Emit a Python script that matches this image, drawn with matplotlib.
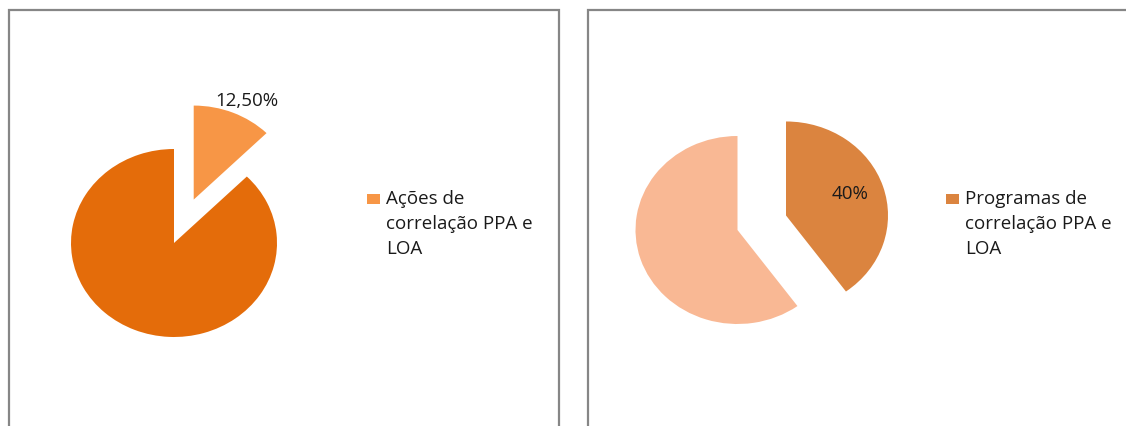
import textwrap
import matplotlib
matplotlib.use("Agg")
import matplotlib.pyplot as plt
from matplotlib.patches import Rectangle

# data
left_values = [12.5, 87.5]
left_colors = ['#F79646', '#E46C0A']
left_legend = 'Ações de correlação PPA e LOA'

right_values = [40, 60]
right_colors = ['#DB843F', '#F9B894']
right_legend = 'Programas de correlação PPA e LOA'

W, H = 1126, 427
plt.rcParams['font.family'] = ['Open Sans', 'DejaVu Sans']
FS = 13.5

fig = plt.figure(figsize=(W / 100, H / 100), dpi=100)

# panel frames (pixels: x0, x1, top)
for x0, x1 in [(9, 558.5), (588, 1140)]:
    fig.add_artist(Rectangle((x0 / W, -0.05), (x1 - x0) / W, (H - 10.5) / H + 0.05,
                             transform=fig.transFigure, fill=False,
                             edgecolor='#868686', linewidth=1.6))


def pie_axes(cx, cy, rx, ry, k=1.7):
    # axes centred on the pie, one data unit = pie radius (slightly elliptic)
    ax = fig.add_axes([(cx - k * rx) / W, (H - cy - k * ry) / H,
                       2 * k * rx / W, 2 * k * ry / H])
    return ax, k


def fmt_left(p):
    return ('%.2f%%' % p).replace('.', ',') if p < 50 else ''


def fmt_right(p):
    return '%.0f%%' % p if p < 50 else ''


def nudge(t, dx, dy):
    x, y = t.get_position()
    t.set_position((x + dx, y + dy))


# left chart
ax, k = pie_axes(174, 244, 103, 94)
wl, _, tl = ax.pie(left_values, colors=left_colors, startangle=90, counterclock=False,
                   explode=[0.5, 0], autopct=fmt_left, pctdistance=1.19,
                   wedgeprops=dict(linewidth=0), textprops=dict(fontsize=FS, color='#1a1a1a'))
nudge(tl[0], 0.06, -0.045)
ax.set_aspect('auto')
ax.set_xlim(-k, k)
ax.set_ylim(-k, k)
ax.axis('off')

# right chart
ax2, k = pie_axes(737.5, 231, 102, 94)
wr, _, tr = ax2.pie(right_values, colors=right_colors, startangle=90, counterclock=False,
                    explode=[0.5, 0], autopct=fmt_right, pctdistance=0.66,
                    wedgeprops=dict(linewidth=0), textprops=dict(fontsize=FS, color='#1a1a1a'))
nudge(tr[0], 0, 0.03)
ax2.set_aspect('auto')
ax2.set_xlim(-k, k)
ax2.set_ylim(-k, k)
ax2.axis('off')


def add_legend(handle, label, x, y):
    leg = fig.legend([handle], [textwrap.fill(label, 16)], loc='upper left',
                     bbox_to_anchor=(x / W, 1 - y / H), frameon=False,
                     handlelength=0.7, handleheight=0.5,
                     handletextpad=0.3, borderpad=0, borderaxespad=0,
                     labelcolor='#1a1a1a', prop=dict(size=FS))
    for col in leg._legend_handle_box.get_children():
        for row in col.get_children():
            row.align = 'top'
    for t in leg.get_texts():
        t.set_linespacing(1.5)
    # drop the square down to the first text line
    for h in leg.legend_handles:
        h.set_y(h.get_y() - 3.4)
    return leg


add_legend(wl[0], left_legend, 367, 190)
add_legend(wr[0], right_legend, 946, 190)

fig.savefig('out.png', dpi=100)
